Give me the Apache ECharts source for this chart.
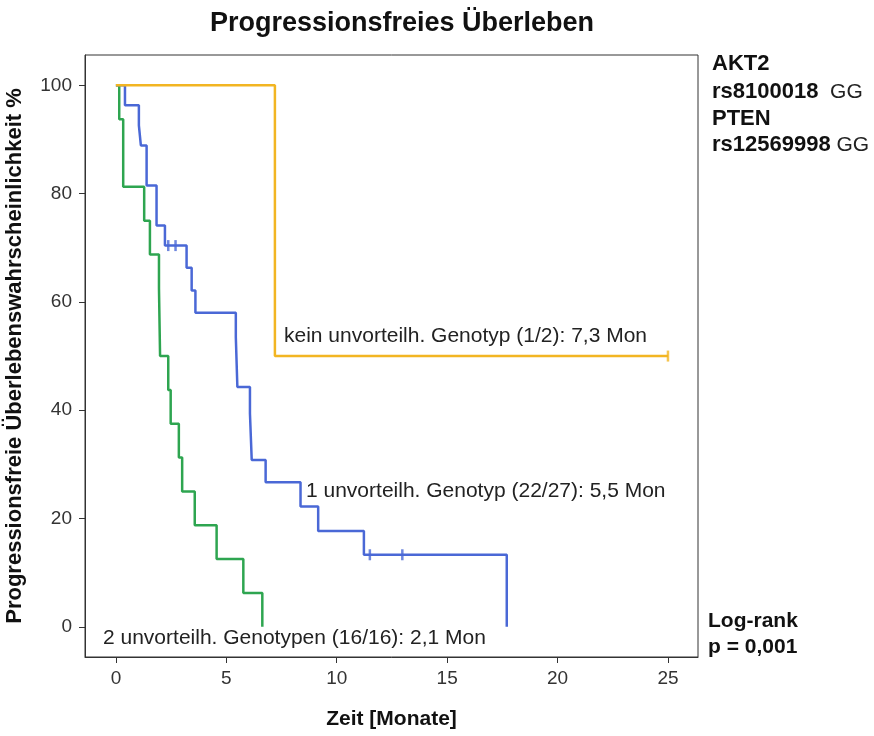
<!DOCTYPE html>
<html><head><meta charset="utf-8">
<script src="https://cdn.jsdelivr.net/npm/echarts@6/dist/echarts.min.js"></script>
<style>html,body{margin:0;padding:0;background:#fff}#c{width:874px;height:736px}</style>
</head><body><div id="c"></div>
<script>
// Kaplan-Meier step data (time in months, survival %)
const yellowTimes = [0, 7.2, 25];
const yellowSurv  = [100, 50, 50];
const blueTimes = [0, 0.41, 1.04, 1.13, 1.39, 1.84, 2.22, 3.2, 3.43, 3.6, 5.43, 5.5, 6.07, 6.15, 6.78, 8.36, 9.16, 11.23, 17.7];
const blueSurv  = [100, 96.3, 92.6, 88.9, 81.5, 74.1, 70.4, 66.3, 62.1, 58.0, 53.5, 44.3, 39.4, 30.8, 26.7, 22.2, 17.7, 13.3, 0];
const greenTimes = [0, 0.15, 0.33, 1.28, 1.54, 1.95, 2.0, 2.37, 2.48, 2.85, 3.0, 3.57, 4.56, 5.77, 6.63];
const greenSurv  = [100, 93.75, 81.25, 75, 68.75, 62.5, 50, 43.75, 37.5, 31.25, 25, 18.75, 12.5, 6.25, 0];
// censored observations
const blueCensTimes = [2.37, 2.7, 11.5, 12.97];
const blueCensSurv  = [70.4, 70.4, 13.3, 13.3];
const yellowCensTimes = [25];
const yellowCensSurv  = [50];
// axis ticks
const xTicks = [0, 5, 10, 15, 20, 25];
const yTicks = [0, 20, 40, 60, 80, 100];
const groupLabels = [
  'kein unvorteilh. Genotyp (1/2): 7,3 Mon',
  '1 unvorteilh. Genotyp (22/27): 5,5 Mon',
  '2 unvorteilh. Genotypen (16/16): 2,1 Mon'
];

const cYellow = '#F2B522', cBlue = '#4A68D6', cGreen = '#2EA550';
const zip = (a, b) => a.map((v, i) => [v, b[i]]);
const FONT = '"Liberation Sans", Arial, sans-serif';

const chart = echarts.init(document.getElementById('c'));
const lineSeries = (data, color) => ({
  type: 'line', step: 'end', data, symbol: 'none',
  lineStyle: { color, width: 2.5 }, itemStyle: { color }, animation: false
});
const censSeries = (data, color) => ({
  type: 'scatter', data, symbol: 'rect', symbolSize: [2.5, 11],
  itemStyle: { color }, animation: false
});
chart.setOption({
  animation: false,
  title: {
    text: 'Progressionsfreies Überleben', left: 397, top: 5, textAlign: 'center',
    textStyle: { fontFamily: FONT, fontSize: 27, fontWeight: 'bold', color: '#111' }
  },
  grid: { left: 85, top: 55, right: 176, bottom: 79, show: true, borderColor: '#333', borderWidth: 1, outerBoundsMode: 'none', containLabel: false },
  xAxis: {
    type: 'value', min: -1.4, max: 26.36,
    name: 'Zeit [Monate]', nameLocation: 'middle', nameGap: 52,
    nameTextStyle: { fontFamily: FONT, fontSize: 21, fontWeight: 'bold', color: '#111' },
    axisLine: { show: true, onZero: false, lineStyle: { color: '#333' } },
    axisTick: { show: true, length: 6, customValues: xTicks, lineStyle: { color: '#333' } },
    axisLabel: { customValues: xTicks, margin: 12, fontFamily: FONT, fontSize: 19, color: '#333' },
    splitLine: { show: false }
  },
  yAxis: {
    type: 'value', min: -5.58, max: 105.6,
    name: 'Progressionsfreie Überlebenswahrscheinlichkeit %', nameLocation: 'middle', nameGap: 59,
    nameTextStyle: { fontFamily: FONT, fontSize: 22, fontWeight: 'bold', color: '#111' },
    axisLine: { show: true, onZero: false, lineStyle: { color: '#333' } },
    axisTick: { show: true, length: 6, customValues: yTicks, lineStyle: { color: '#333' } },
    axisLabel: { customValues: yTicks, margin: 13, fontFamily: FONT, fontSize: 19, color: '#333' },
    splitLine: { show: false }
  },
  series: [
    lineSeries(zip(greenTimes, greenSurv), cGreen),
    lineSeries(zip(blueTimes, blueSurv), cBlue),
    lineSeries(zip(yellowTimes, yellowSurv), cYellow),
    censSeries(zip(blueCensTimes, blueCensSurv), cBlue),
    censSeries(zip(yellowCensTimes, yellowCensSurv), cYellow)
  ],
  graphic: [
    { type: 'text', left: 284, top: 326, style: { text: groupLabels[0], font: '21px ' + FONT, fill: '#222' } },
    { type: 'text', left: 306, top: 481, style: { text: groupLabels[1], font: '21px ' + FONT, fill: '#222' } },
    { type: 'text', left: 103, top: 628, style: { text: groupLabels[2], font: '21px ' + FONT, fill: '#222' } },
    { type: 'text', left: 712, top: 53, style: { text: 'AKT2', font: 'bold 22px ' + FONT, fill: '#111' } },
    { type: 'text', left: 712, top: 81, style: { text: '{b|rs8100018}{n|  GG}', rich: { b: { font: 'bold 22px ' + FONT, fill: '#111' }, n: { font: '21px ' + FONT, fill: '#222' } } } },
    { type: 'text', left: 712, top: 108, style: { text: 'PTEN', font: 'bold 22px ' + FONT, fill: '#111' } },
    { type: 'text', left: 712, top: 134, style: { text: '{b|rs12569998}{n| GG}', rich: { b: { font: 'bold 22px ' + FONT, fill: '#111' }, n: { font: '21px ' + FONT, fill: '#222' } } } },
    { type: 'text', left: 708, top: 611, style: { text: 'Log-rank', font: 'bold 21px ' + FONT, fill: '#111' } },
    { type: 'text', left: 708, top: 637, style: { text: 'p = 0,001', font: 'bold 21px ' + FONT, fill: '#111' } }
  ]
});
</script></body></html>
